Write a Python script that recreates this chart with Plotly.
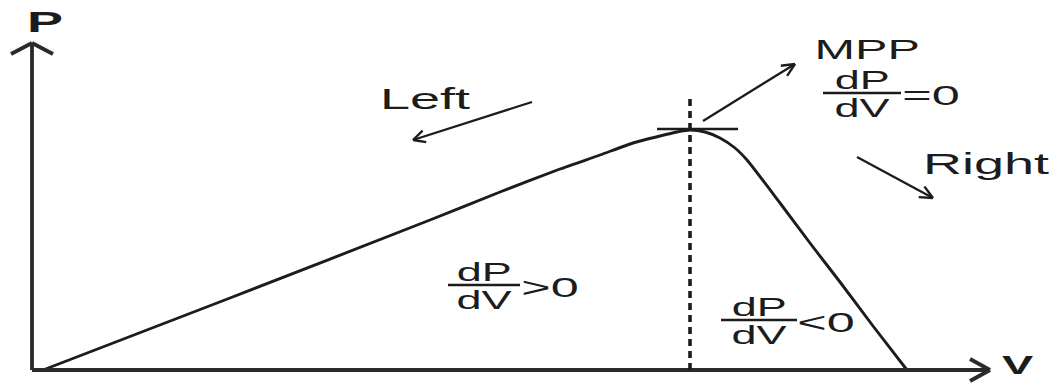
import numpy as np
import plotly.graph_objects as go

# P-V characteristic of a PV module (arbitrary units)
V_curve = [11, 198, 398, 468, 528, 568, 601, 628, 645, 658, 673, 688, 703, 715, 748, 781, 808, 841, 875]
P_curve = [0, 72, 150, 178, 201, 215, 227, 234, 238, 240, 238, 232, 222, 210, 167, 123, 88, 44, 0]

# axis extents
V_axis_end = 958
P_axis_end = 327

INK = "#1c1c1c"
FONT = "Liberation Sans, Arial, sans-serif"
STRETCH = 1.8

i_mpp = int(np.argmax(P_curve))
V_mpp, P_mpp = V_curve[i_mpp], P_curve[i_mpp]

fig = go.Figure()
fig.add_trace(go.Scatter(
    x=V_curve, y=P_curve, mode="lines",
    line=dict(color=INK, width=2.9, shape="spline", smoothing=0.6),
    hoverinfo="skip",
))

shapes = []


def seg(x0, y0, x1, y1, width=2.0, color=INK, dash="solid"):
    shapes.append(dict(type="line", xref="x", yref="y", x0=x0, y0=y0, x1=x1, y1=y1,
                       line=dict(color=color, width=width, dash=dash)))


def arrow(x0, y0, x1, y1, back, side, width=2.0, color=INK):
    """Line from (x0,y0) to (x1,y1) with an open chevron head at the end."""
    seg(x0, y0, x1, y1, width, color)
    d = np.array([x1 - x0, y1 - y0], dtype=float)
    d /= np.hypot(*d)
    n = np.array([-d[1], d[0]])
    tip = np.array([x1, y1], dtype=float)
    for s in (1, -1):
        p = tip - d * back + n * side * s
        seg(p[0], p[1], tip[0], tip[1], width, color)


# axes with open arrow heads
arrow(0, 0, 0, P_axis_end, back=11, side=21, width=3.8, color="#2a2a2a")
arrow(0, 0, V_axis_end, 0, back=20, side=11, width=3.8, color="#2a2a2a")

# maximum power point: dashed vertical and horizontal tangent
seg(V_mpp, 0, V_mpp, P_mpp + 32, width=3.6, dash="7px,5px")
seg(V_mpp - 33, P_mpp + 1, V_mpp + 48, P_mpp + 1, width=2.5)

# direction arrows
arrow(500, 268, 381, 230, back=12, side=6, width=2.3)
arrow(671, 249, 763, 306, back=13, side=6, width=2.3)
arrow(825, 213, 901, 172, back=13, side=6, width=2.3)

annotations = []


def label(x, y, text, size, bold=False):
    annotations.append(dict(
        x=x, y=y, xref="x", yref="y", text=text, showarrow=False,
        xanchor="center", yanchor="middle",
        font=dict(family=FONT, size=size, color=INK, weight="bold" if bold else "normal"),
    ))


def fraction(x, y, rel, rel_x, half=38, size=25):
    """dP/dV written as a stacked fraction with a relation to its right."""
    label(x, y + 13, "dP", size)
    label(x, y - 15, "dV", size)
    seg(x - half, y, x + half, y, width=2.6)
    label(rel_x, y - 2, rel, 28)


label(13, 349, "P", 30, bold=True)
label(986, 5, "V", 26, bold=True)
label(393, 272, "Left", 30)
label(954, 207, "Right", 30)
label(835, 320, "MPP", 27)

fraction(830, 277, "=0", rel_x=899, half=39)
fraction(452, 85, ">0", rel_x=518, half=36)
fraction(727, 50, "<0", rel_x=794, half=38)

fig.update_layout(
    width=1059, height=385,
    margin=dict(l=0, r=0, t=0, b=0),
    paper_bgcolor="white", plot_bgcolor="white",
    showlegend=False,
    shapes=shapes, annotations=annotations,
    xaxis=dict(range=[-32, 1027], visible=False, fixedrange=True),
    yaxis=dict(range=[-15, 370], visible=False, fixedrange=True),
)

# widen the lettering horizontally
post = """
var st = document.createElement('style');
st.textContent = 'text.annotation-text{transform-box:fill-box;transform-origin:center;transform:scaleX(%s);}';
document.head.appendChild(st);
""" % STRETCH

fig.write_html("out.html", post_script=post, div_id="pvcurve",
               config={"staticPlot": True})
